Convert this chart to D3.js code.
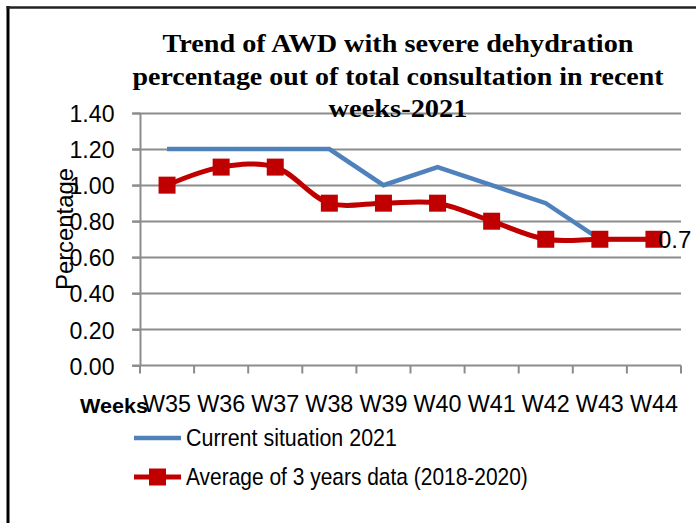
<!DOCTYPE html>
<html><head><meta charset="utf-8">
<script src="https://cdn.jsdelivr.net/npm/d3@7"></script>
<style>body{margin:0;background:#fff}svg{display:block}</style>
</head><body>
<svg id="c" width="696" height="523"></svg>
<script>
const weeks = ["W35","W36","W37","W38","W39","W40","W41","W42","W43","W44"];
const current2021 = [1.2,1.2,1.2,1.2,1.0,1.1,1.0,0.9,0.7,0.7];
const average3y = [1.0,1.1,1.1,0.9,0.9,0.9,0.8,0.7,0.7,0.7];
const yTicks = [0,0.2,0.4,0.6,0.8,1.0,1.2,1.4];
const seriesNames = ["Current situation 2021","Average of 3 years data (2018-2020)"];
const titleLines = ["Trend of AWD with severe dehydration","percentage out of total consultation in recent","weeks-2021"];

const svg = d3.select("#c");
const blue = "#4F81BD", red = "#C00000", grid = "#8C8C8C";
const sans = "'Liberation Sans', Arial, sans-serif";
const serif = "'Liberation Serif', 'Times New Roman', serif";

// horizontally fit a text (anchor start) at (x,y) to width w
function fitText(g, str, x0, y0, w, size, weight) {
  const t = g.append("text").attr("font-family",sans).attr("font-size",size)
    .attr("font-weight",weight||"normal").attr("fill","#000").text(str);
  const nat = t.node().getComputedTextLength();
  t.attr("transform",`translate(${x0},${y0}) scale(${w/nat},1)`);
  return t;
}

// frame
svg.append("line").attr("x1",8).attr("x2",8).attr("y1",6).attr("y2",523).attr("stroke","#000").attr("stroke-width",3);
svg.append("line").attr("x1",6.5).attr("x2",696).attr("y1",7.5).attr("y2",7.5).attr("stroke","#222").attr("stroke-width",2.5);

const x = d3.scaleBand().domain(weeks).range([140,681]);
const y = d3.scaleLinear().domain([0,1.4]).range([365.5,113]);
const cx = d => x(d) + x.bandwidth()/2;

// gridlines
svg.append("g").selectAll("line").data(yTicks.slice(1)).join("line")
  .attr("x1",132).attr("x2",681).attr("y1",d=>Math.round(y(d))+0.5).attr("y2",d=>Math.round(y(d))+0.5)
  .attr("stroke",grid).attr("stroke-width",2);

// y axis
const ya = svg.append("g").attr("transform","translate(140.5,0)")
  .call(d3.axisLeft(y).tickValues(yTicks).tickFormat(d3.format(".2f")).tickSize(8).tickPadding(18));
ya.select(".domain").attr("stroke",grid).attr("stroke-width",2).attr("d","M0,113V366");
ya.selectAll(".tick line").attr("stroke",grid).attr("stroke-width",2);
ya.selectAll("text").attr("font-family",sans).attr("font-size",24).attr("fill","#000").attr("dy","0.36em")
  .attr("textLength",45).attr("lengthAdjust","spacingAndGlyphs");

// x axis
const xa = svg.append("g").attr("transform","translate(0,365.5)")
  .call(d3.axisBottom(x).tickSize(0).tickPadding(29));
xa.select(".domain").attr("stroke",grid).attr("stroke-width",2).attr("d","M132,0H681");
xa.selectAll("text").attr("font-family",sans).attr("font-size",24).attr("fill","#000")
  .attr("textLength",48).attr("lengthAdjust","spacingAndGlyphs");
// category boundary ticks
const bounds = weeks.map(w=>x(w)).concat([x(weeks[weeks.length-1])+x.bandwidth()]);
xa.append("g").selectAll("line").data(bounds).join("line")
  .attr("x1",d=>d).attr("x2",d=>d).attr("y1",0).attr("y2",8).attr("stroke",grid).attr("stroke-width",2);

// blue line
svg.append("path").datum(current2021)
  .attr("d", d3.line().x((d,i)=>cx(weeks[i])).y(d=>y(d)))
  .attr("fill","none").attr("stroke",blue).attr("stroke-width",4.5);

// red smoothed line
svg.append("path").datum(average3y)
  .attr("d", d3.line().curve(d3.curveCatmullRom.alpha(0.5)).x((d,i)=>cx(weeks[i])).y(d=>y(d)))
  .attr("fill","none").attr("stroke",red).attr("stroke-width",5);
const ms = 17;
svg.append("g").selectAll("rect").data(average3y).join("rect")
  .attr("x",(d,i)=>cx(weeks[i])-ms/2).attr("y",d=>y(d)-ms/2)
  .attr("width",ms).attr("height",ms).attr("fill",red);

// data label
svg.append("text").attr("x",cx(weeks[9])+4).attr("y",y(average3y[9])+9)
  .attr("font-family",sans).attr("font-size",24).attr("fill","#000").text(average3y[9].toString());

// title
const tl = [
 {t:titleLines[0], yb:52, f:serif, len:471},
 {t:titleLines[1], yb:85, f:serif, len:531},
 {t:titleLines[2], yb:117, f:serif, len:139}
];
svg.append("g").selectAll("text").data(tl).join("text")
  .attr("x",398).attr("y",d=>d.yb).attr("text-anchor","middle")
  .attr("font-family",d=>d.f).attr("font-weight","bold").attr("font-size",26).attr("fill","#000")
  .attr("textLength",d=>d.len).attr("lengthAdjust","spacingAndGlyphs").text(d=>d.t);

// axis titles
svg.append("text").attr("transform","translate(73,229) rotate(-90)").attr("text-anchor","middle")
  .attr("font-family",sans).attr("font-size",24).attr("fill","#000")
  .attr("textLength",122).attr("lengthAdjust","spacingAndGlyphs").text("Percentage");
fitText(svg, "Weeks", 80, 413, 68, 21, "bold");

// legend
const lg = svg.append("g");
lg.append("line").attr("x1",134).attr("x2",181).attr("y1",438).attr("y2",438).attr("stroke",blue).attr("stroke-width",4.5);
lg.append("line").attr("x1",134).attr("x2",181).attr("y1",477).attr("y2",477).attr("stroke",red).attr("stroke-width",5);
lg.append("rect").attr("x",149).attr("y",477-ms/2).attr("width",ms).attr("height",ms).attr("fill",red);
fitText(lg, seriesNames[0], 186, 446, 211, 24);
fitText(lg, seriesNames[1], 186, 485, 342, 24);
</script>
</body></html>
